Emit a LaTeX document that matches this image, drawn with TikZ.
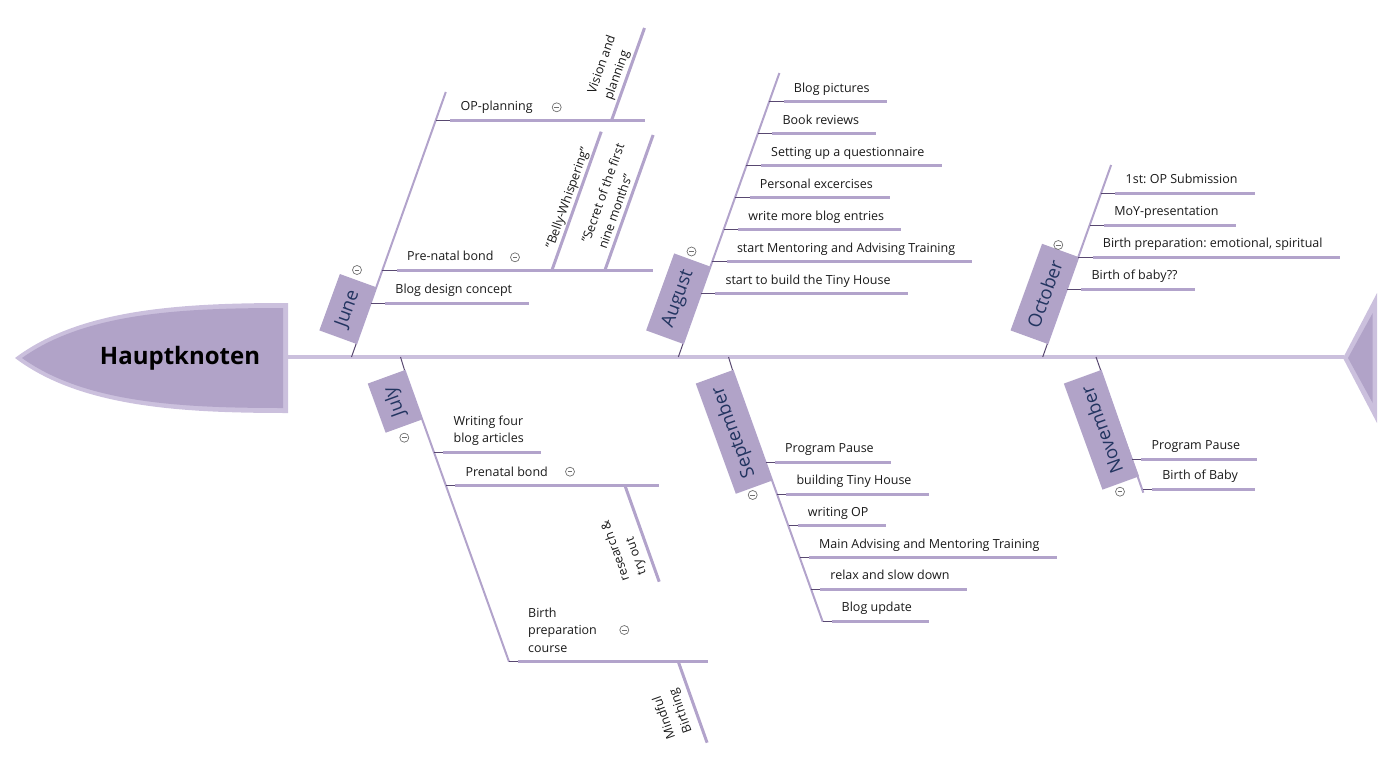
\documentclass[tikz,border=0pt]{standalone}
\usepackage{fontspec}
\setmainfont{Open Sans}
\usetikzlibrary{calc}

\definecolor{spinec}{RGB}{203,192,221}
\definecolor{boxc}{RGB}{177,163,200}
\definecolor{bonec}{RGB}{178,163,203}
\definecolor{stemc}{RGB}{88,72,112}
\definecolor{monthc}{RGB}{34,52,96}
\definecolor{foldc}{RGB}{112,112,112}

\tikzset{
  spine/.style={draw=spinec, line width=4.5pt},
  bone/.style={draw=bonec, line width=2pt},
  twig/.style={draw=bonec, line width=3pt},
  stem/.style={draw=stemc, line width=1pt},
  month/.style={fill=boxc, text=monthc, font=\fontsize{18.5}{22}\selectfont,
    minimum height=39pt, inner xsep=11pt, inner ysep=0pt},
  leaf/.style={font=\fontsize{12.5}{17.6}\selectfont\frenchspacing, text=black!90,
    inner sep=0pt, align=left},
  fold/.style={circle, draw=foldc, line width=0.7pt, minimum size=9pt,
    inner sep=0pt, path picture={\draw[foldc, line width=0.7pt]
      ([xshift=-2.4pt]path picture bounding box.center) --
      ([xshift=2.4pt]path picture bounding box.center);}}
}

% [end x] name, bone base x, y, side (1 up, -1 down), text
\newcommand{\leaf}[6][]{%
  \pgfmathsetmacro{\ly}{#4}
  \pgfmathsetmacro{\lx}{#3+(#5)*(357-\ly)*0.356}
  \pgfmathsetmacro{\lgap}{(#5)>0 ? 14.5 : 9}
  \coordinate (#2-b) at (\lx,\ly);
  \coordinate (#2-s) at (\lx+\lgap,\ly);
  \node[leaf, anchor=base west] (#2) at (\lx+\lgap+10,\ly-9.5) {#6};
  \draw[stem] (#2-b) -- (#2-s);
  \ifx\relax#1\relax
    \draw[twig] (#2-s) -- ($(#2.east |- #2-b)+(17,0)$);
  \else
    \draw[twig] (#2-s) -- (#1,\ly);
  \fi
}

\begin{document}
\begin{tikzpicture}[x=1pt, y=-1pt]
\useasboundingbox (0,0) rectangle (1394,771);

% head and tail
\fill[spinec] (15,358) .. controls (80,309) and (180,303) .. (288,303)
  -- (288,413) .. controls (180,413) and (80,407) .. cycle;
\fill[boxc] (22,358) .. controls (85,313) and (180,308) .. (283,308)
  -- (283,408) .. controls (180,408) and (85,403) .. cycle;
\node[font=\fontsize{24}{28}\selectfont\bfseries] (haupt) at (180,358) {Hauptknoten};
\fill[spinec] (1343,358) -- (1377,293) -- (1377,423) -- cycle;
\fill[boxc] (1348,358) -- (1372.7,313) -- (1372.7,403) -- cycle;
\coordinate (head) at (288,357);
\coordinate (tail) at (1344,357);
\draw[spine] (head) -- (tail);

% bones: spine point, box corner, far end
\coordinate (jun-0) at (351.5,357);  \coordinate (jun-c) at (356.1,344);  \coordinate (jun-1) at (445.8,92);
\coordinate (aug-0) at (678.3,357);  \coordinate (aug-c) at (682.9,344);  \coordinate (aug-1) at (779.4,73);
\coordinate (oct-0) at (1042.7,357); \coordinate (oct-c) at (1047.3,344); \coordinate (oct-1) at (1111.1,165);
\coordinate (jul-0) at (400.5,357);  \coordinate (jul-c) at (404.5,370);  \coordinate (jul-1) at (509,661.7);
\coordinate (sep-0) at (728.5,357);  \coordinate (sep-c) at (732.5,370);  \coordinate (sep-1) at (822.7,621.7);
\coordinate (nov-0) at (1096,357);   \coordinate (nov-c) at (1100.6,370); \coordinate (nov-1) at (1143.3,492.7);
\foreach \m in {jun,aug,oct,jul,sep,nov}
  {\draw[stem] (\m-0) -- (\m-c);
   \draw[bone] (\m-c) -- (\m-1);}

% months
\node[month, rotate=70, anchor=south west] (june) at (jun-c) {June};
\node[month, rotate=70, anchor=south west] (august) at (aug-c) {August};
\node[month, rotate=70, anchor=south west] (october) at (oct-c) {October};
\node[month, rotate=110, anchor=south east] (july) at (jul-c) {July};
\node[month, rotate=110, anchor=south east] (september) at (sep-c) {September};
\node[month, rotate=110, anchor=south east] (november) at (nov-c) {November};

% June
\leaf[645]{opp}{351.5}{120}{1}{OP-planning}
\leaf[653]{pnb}{351.5}{270}{1}{Pre-natal bond}
\leaf{bdc}{351.5}{303}{1}{Blog design concept}
\coordinate (vis-0) at (611.7,120); \coordinate (vis-1) at (644.5,28);
\draw[twig] (vis-0) -- (vis-1)
  node[leaf, midway, sloped, above=2pt] (vis) {Vision and\\planning};
\coordinate (bel-0) at (552,270); \coordinate (bel-1) at (601.2,131.7);
\draw[twig] (bel-0) -- (bel-1)
  node[leaf, midway, sloped, above=1pt] (bel) {"Belly-Whispering"};
\coordinate (sec-0) at (605,270); \coordinate (sec-1) at (653.1,135);
\draw[twig] (sec-0) -- (sec-1)
  node[leaf, midway, sloped, above=4pt] (sec) {"Secret of the first\\nine months"};

% August
\foreach \t [count=\i from 0] in {Blog pictures, Book reviews,
    Setting up a questionnaire, Personal excercises, write more blog entries,
    start Mentoring and Advising Training, start to build the Tiny House}
  {\leaf{aug\i}{678.3}{101.5+32*\i}{1}{\t}}

% October
\foreach \t [count=\i from 0] in {1st: OP Submission, MoY-presentation,
    {Birth preparation: emotional, spiritual}, Birth of baby??}
  {\leaf{oct\i}{1042.7}{193.3+32*\i}{1}{\t}}

% July
\leaf{wfb}{400.5}{452.3}{-1}{Writing four\\blog articles}
\leaf[659.3]{pre}{400.5}{485.7}{-1}{Prenatal bond}
\leaf[707.7]{bpc}{400.5}{661.7}{-1}{Birth\\preparation\\course}
\coordinate (rto-0) at (625,485.7); \coordinate (rto-1) at (659.2,581.7);
\draw[twig] (rto-1) -- (rto-0)
  node[leaf, pos=0.43, sloped, allow upside down, above=5pt] (rto) {research \&\\try out};
\coordinate (mfb-0) at (678.3,661.7); \coordinate (mfb-1) at (707.1,742.7);
\draw[twig] (mfb-1) -- (mfb-0)
  node[leaf, pos=0.45, sloped, allow upside down, above=6pt] (mfb) {Mindful\\Birthing};

% September
\foreach \t [count=\i from 0] in {Program Pause, building Tiny House, writing OP,
    Main Advising and Mentoring Training, relax and slow down, Blog update}
  {\leaf{sep\i}{728.5}{462.3+31.75*\i}{-1}{\t}}

% November
\leaf{npp}{1096}{459.3}{-1}{Program Pause}
\leaf{nbb}{1096}{489.3}{-1}{Birth of Baby}

% collapse marks
\foreach \n/\x/\y in {jun/357/270, aug/691.5/251.5, oct/1058.3/245,
    jul/404.3/437.7, sep/752.7/495, nov/1120/491.7, opp/556.7/107.3,
    pnb/515/257.3, pre/570/471.7, bpc/624.3/630}
  \node[fold] (f-\n) at (\x,\y) {};
\end{tikzpicture}
\end{document}
